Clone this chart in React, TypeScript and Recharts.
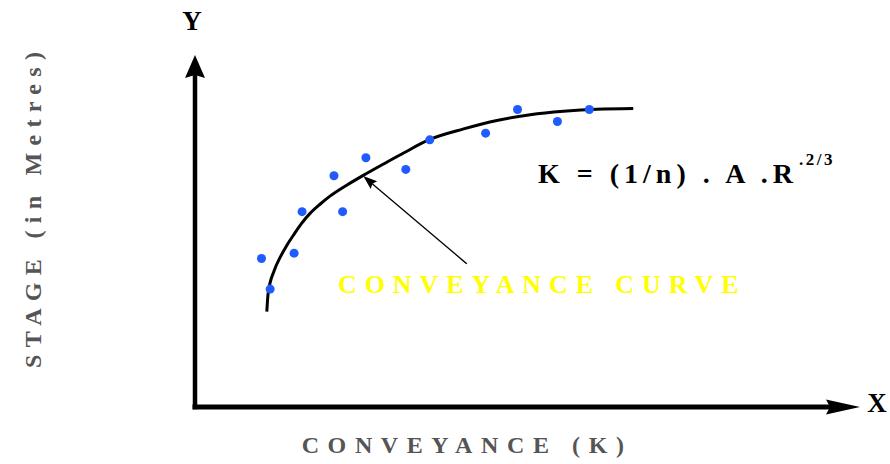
import React from "react";
import { ComposedChart, Line, Scatter, XAxis, YAxis, ReferenceLine } from "recharts";

// Conveyance curve (K vs stage), relative units 0..100
const curveK = [10.8, 11.0, 11.9, 12.8, 13.8, 14.8, 16.0, 17.3, 18.8, 20.3, 22.8, 25.3, 28.7, 31.5, 35.3, 40.4, 45.4, 50.4, 55.4, 60.4, 65.9];
const curveStage = [27.1, 32.3, 38.7, 42.5, 45.9, 48.8, 52.1, 55.0, 57.6, 59.9, 63.0, 65.8, 69.4, 72.3, 76.0, 79.0, 81.4, 83.0, 84.0, 84.6, 84.8];

// Observed points
const obsK = [10.0, 11.3, 14.9, 16.1, 22.2, 20.9, 25.7, 31.7, 35.3, 43.7, 48.5, 54.5, 59.3];
const obsStage = [42.2, 33.5, 43.7, 55.5, 55.5, 65.7, 70.8, 67.5, 75.9, 77.8, 84.5, 81.1, 84.5];

// Annotation arrow: tail -> tip (points at curve)
const annotTail = { x: 40.8, y: 40.8 };
const annotTip = { x: 25.3, y: 65.6 };

const curveData = curveK.map((k, i) => ({ x: k, y: curveStage[i] }));
const obsData = obsK.map((k, i) => ({ x: k, y: obsStage[i] }));

const W = 890;
const H = 464;
const SERIF = "'Liberation Serif', 'Times New Roman', serif";

type ArrowOpts = { width: number; headLen: number; headHalf: number; notch: number };

const makeArrow = (o: ArrowOpts) => (props: any) => {
  const { x1, y1, x2, y2 } = props;
  const dx = x2 - x1;
  const dy = y2 - y1;
  const len = Math.sqrt(dx * dx + dy * dy) || 1;
  const ux = dx / len;
  const uy = dy / len;
  const px = -uy;
  const py = ux;
  const bx = x2 - ux * o.headLen;
  const by = y2 - uy * o.headLen;
  const nx = x2 - ux * (o.headLen - o.notch);
  const ny = y2 - uy * (o.headLen - o.notch);
  const pts = [
    [x2, y2],
    [bx + px * o.headHalf, by + py * o.headHalf],
    [nx, ny],
    [bx - px * o.headHalf, by - py * o.headHalf],
  ]
    .map((p) => p.join(","))
    .join(" ");
  return (
    <g>
      <line x1={x1} y1={y1} x2={nx} y2={ny} stroke="#000" strokeWidth={o.width} strokeLinecap="square" />
      <polygon points={pts} fill="#000" />
    </g>
  );
};

export default function App() {
  return (
    <div style={{ position: "absolute", left: 0, top: 0, width: W, height: H, background: "#fff" }}>
      <ComposedChart width={W} height={H} margin={{ top: 55, right: 30, bottom: 57, left: 195 }}>
        <XAxis type="number" dataKey="x" domain={[0, 100]} hide allowDataOverflow />
        <YAxis type="number" dataKey="y" domain={[0, 100]} hide allowDataOverflow />
        <ReferenceLine
          segment={[{ x: 0, y: 0 }, { x: 100, y: 0 }]}
          ifOverflow="visible"
          shape={makeArrow({ width: 5, headLen: 34, headHalf: 7.5, notch: 4 })}
        />
        <ReferenceLine
          segment={[{ x: 0, y: 0 }, { x: 0, y: 100 }]}
          ifOverflow="visible"
          shape={makeArrow({ width: 4.5, headLen: 23, headHalf: 10, notch: 3 })}
        />
        <ReferenceLine
          segment={[annotTail, annotTip]}
          ifOverflow="visible"
          shape={makeArrow({ width: 1.3, headLen: 14, headHalf: 5, notch: 2 })}
        />
        <Line
          data={curveData}
          dataKey="y"
          type="monotone"
          stroke="#000"
          strokeWidth={3}
          dot={false}
          activeDot={false}
          isAnimationActive={false}
        />
        <Scatter data={obsData} dataKey="y" fill="#1f5bff" isAnimationActive={false} />
        <text x={192} y={30} textAnchor="middle" style={{ fontFamily: SERIF }} fontWeight="bold" fontSize={27} fill="#000">
          Y
        </text>
        <text x={877} y={412} textAnchor="middle" style={{ fontFamily: SERIF }} fontWeight="bold" fontSize={27} fill="#000">
          X
        </text>
        <text x={538} y={183} style={{ fontFamily: SERIF }} fontWeight="bold" fontSize={28} letterSpacing={5} fill="#000">
          K = (1/n) . A .R
        </text>
        <text x={799} y={165} style={{ fontFamily: SERIF }} fontWeight="bold" fontSize={17} letterSpacing={2.5} fill="#000">
          .2/3
        </text>
        <text x={338} y={293} style={{ fontFamily: SERIF }} fontWeight="bold" fontSize={26} letterSpacing={7.9} fill="#ffff00">
          CONVEYANCE CURVE
        </text>
        <text x={301.7} y={453} style={{ fontFamily: SERIF }} fontWeight="bold" fontSize={24} letterSpacing={8.6} fill="#555555">
          CONVEYANCE (K)
        </text>
        <text
          transform="translate(41,368) rotate(-90)"
          x={0}
          y={0}
          style={{ fontFamily: SERIF }}
          fontWeight="bold"
          fontSize={24}
          letterSpacing={7.3}
          fill="#555555"
        >
          STAGE (in Metres)
        </text>
      </ComposedChart>
    </div>
  );
}
